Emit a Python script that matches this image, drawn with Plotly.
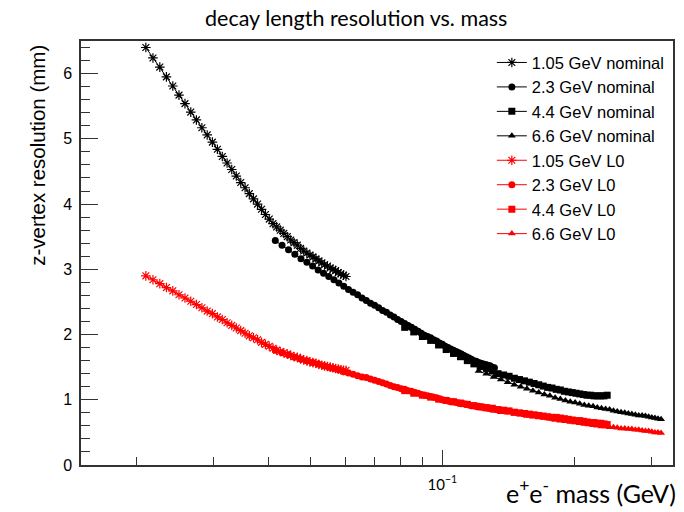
import plotly.graph_objects as go

# ---------------- data ----------------
x_105 = [0.0210, 0.0218, 0.0226, 0.0234, 0.0242, 0.0250, 0.0258, 0.0266, 0.0274, 0.0282,
         0.0290, 0.0298, 0.0306, 0.0314, 0.0322, 0.0330, 0.0338, 0.0346, 0.0354, 0.0362,
         0.0370, 0.0378, 0.0386, 0.0394, 0.0402, 0.0410, 0.0418, 0.0426, 0.0434, 0.0442,
         0.0450, 0.0458, 0.0466, 0.0474, 0.0482, 0.0490, 0.0498, 0.0506, 0.0514, 0.0522,
         0.0530, 0.0538, 0.0546, 0.0554, 0.0562, 0.0570, 0.0578, 0.0586, 0.0594, 0.0602]
y_105_nom = [6.40, 6.24, 6.10, 5.95, 5.81, 5.67, 5.54, 5.41, 5.29, 5.17,
             5.06, 4.95, 4.84, 4.73, 4.63, 4.53, 4.43, 4.33, 4.25, 4.16,
             4.08, 4.00, 3.92, 3.84, 3.77, 3.70, 3.65, 3.60, 3.55, 3.50,
             3.45, 3.41, 3.37, 3.32, 3.28, 3.25, 3.22, 3.19, 3.16, 3.13,
             3.10, 3.07, 3.05, 3.02, 3.00, 2.98, 2.95, 2.93, 2.91, 2.89]
y_105_L0 = [2.90, 2.84, 2.78, 2.72, 2.67, 2.61, 2.56, 2.51, 2.46, 2.41,
            2.36, 2.32, 2.27, 2.23, 2.18, 2.14, 2.10, 2.06, 2.02, 1.98,
            1.95, 1.92, 1.88, 1.85, 1.82, 1.79, 1.76, 1.74, 1.72, 1.70,
            1.68, 1.66, 1.65, 1.63, 1.61, 1.60, 1.58, 1.57, 1.56, 1.54,
            1.53, 1.52, 1.51, 1.50, 1.49, 1.48, 1.47, 1.46, 1.45, 1.45]

x_23 = [0.0415, 0.0430, 0.0445, 0.0460, 0.0475, 0.0490, 0.0505, 0.0520, 0.0535, 0.0550,
        0.0565, 0.0580, 0.0595, 0.0610, 0.0625, 0.0640, 0.0655, 0.0670, 0.0685, 0.0700,
        0.0715, 0.0730, 0.0745, 0.0760, 0.0775, 0.0790, 0.0805, 0.0820, 0.0835, 0.0850,
        0.0865, 0.0880, 0.0895, 0.0910, 0.0925, 0.0940, 0.0955, 0.0970, 0.0985, 0.1000,
        0.1015, 0.1030, 0.1045, 0.1060, 0.1075, 0.1090, 0.1105, 0.1120, 0.1135, 0.1150,
        0.1165, 0.1180, 0.1195, 0.1210, 0.1225, 0.1240, 0.1255, 0.1270, 0.1285, 0.1300,
        0.1315]
y_23_nom = [3.44, 3.37, 3.30, 3.23, 3.16, 3.11, 3.05, 2.99, 2.94, 2.89,
            2.84, 2.79, 2.74, 2.69, 2.65, 2.61, 2.56, 2.52, 2.48, 2.45,
            2.41, 2.37, 2.34, 2.30, 2.27, 2.23, 2.20, 2.17, 2.14, 2.11,
            2.08, 2.05, 2.02, 1.99, 1.97, 1.95, 1.92, 1.90, 1.87, 1.85,
            1.82, 1.80, 1.78, 1.76, 1.74, 1.72, 1.70, 1.68, 1.66, 1.64,
            1.62, 1.60, 1.59, 1.57, 1.56, 1.55, 1.54, 1.53, 1.52, 1.50,
            1.49]
y_23_L0 = [1.76, 1.72, 1.69, 1.65, 1.62, 1.60, 1.57, 1.55, 1.52, 1.50,
           1.48, 1.46, 1.43, 1.41, 1.39, 1.37, 1.35, 1.34, 1.32, 1.30,
           1.28, 1.26, 1.24, 1.22, 1.20, 1.19, 1.17, 1.16, 1.14, 1.13,
           1.11, 1.10, 1.08, 1.07, 1.06, 1.05, 1.04, 1.03, 1.01, 1.00,
           0.99, 0.98, 0.97, 0.97, 0.96, 0.95, 0.94, 0.94, 0.93, 0.92,
           0.91, 0.91, 0.90, 0.90, 0.89, 0.89, 0.88, 0.87, 0.87, 0.86,
           0.86]

x_44 = [0.082, 0.086, 0.090, 0.094, 0.098, 0.102, 0.106, 0.110, 0.114, 0.118,
        0.122, 0.126, 0.130, 0.134, 0.138, 0.142, 0.146, 0.150, 0.154, 0.158,
        0.162, 0.166, 0.170, 0.174, 0.178, 0.182, 0.186, 0.190, 0.194, 0.198,
        0.202, 0.206, 0.210, 0.214, 0.218, 0.222, 0.226, 0.230, 0.234, 0.238]
y_44_nom = [2.11, 2.04, 1.97, 1.91, 1.84, 1.77, 1.71, 1.66, 1.60, 1.55,
            1.51, 1.48, 1.44, 1.40, 1.38, 1.36, 1.33, 1.31, 1.29, 1.27,
            1.25, 1.23, 1.21, 1.19, 1.18, 1.16, 1.15, 1.13, 1.12, 1.11,
            1.10, 1.09, 1.08, 1.07, 1.07, 1.06, 1.06, 1.06, 1.06, 1.07]
y_44_L0 = [1.14, 1.10, 1.07, 1.04, 1.01, 0.99, 0.97, 0.95, 0.93, 0.91,
           0.89, 0.88, 0.87, 0.85, 0.84, 0.83, 0.81, 0.80, 0.79, 0.78,
           0.77, 0.76, 0.75, 0.74, 0.73, 0.73, 0.72, 0.71, 0.70, 0.69,
           0.68, 0.68, 0.67, 0.66, 0.65, 0.65, 0.64, 0.64, 0.63, 0.62]

x_66 = [0.121, 0.126, 0.131, 0.136, 0.141, 0.146, 0.151, 0.156, 0.161, 0.166,
        0.171, 0.176, 0.181, 0.186, 0.191, 0.196, 0.201, 0.206, 0.211, 0.216,
        0.221, 0.226, 0.231, 0.236, 0.241, 0.246, 0.251, 0.256, 0.261, 0.266,
        0.271, 0.276, 0.281, 0.286, 0.291, 0.296, 0.301, 0.306, 0.311, 0.316]
y_66_nom = [1.44, 1.40, 1.35, 1.31, 1.27, 1.23, 1.20, 1.17, 1.14, 1.11,
            1.08, 1.06, 1.03, 1.01, 0.99, 0.97, 0.96, 0.94, 0.92, 0.91,
            0.90, 0.88, 0.87, 0.86, 0.85, 0.83, 0.82, 0.81, 0.80, 0.79,
            0.78, 0.77, 0.76, 0.76, 0.75, 0.74, 0.73, 0.72, 0.71, 0.70]
y_66_L0 = [0.87, 0.85, 0.83, 0.81, 0.80, 0.78, 0.77, 0.75, 0.74, 0.73,
           0.72, 0.71, 0.69, 0.68, 0.67, 0.66, 0.65, 0.64, 0.63, 0.62,
           0.61, 0.60, 0.59, 0.59, 0.58, 0.58, 0.57, 0.56, 0.56, 0.55,
           0.55, 0.54, 0.54, 0.53, 0.52, 0.52, 0.51, 0.50, 0.50, 0.49]

series_names = ["1.05 GeV nominal", "2.3 GeV nominal", "4.4 GeV nominal", "6.6 GeV nominal",
                "1.05 GeV L0", "2.3 GeV L0", "4.4 GeV L0", "6.6 GeV L0"]

x_minor_ticks = [0.02, 0.03, 0.04, 0.05, 0.06, 0.07, 0.08, 0.09, 0.2, 0.3]
x_major_ticks = [0.1]
x_major_text = ["10<sup>−1</sup>"]

# ---------------- figure ----------------
series = [
    (x_105, y_105_nom, "asterisk-open", "#000000", 8),
    (x_23, y_23_nom, "circle", "#000000", 7),
    (x_44, y_44_nom, "square", "#000000", 7),
    (x_66, y_66_nom, "triangle-up", "#000000", 7),
    (x_105, y_105_L0, "asterisk-open", "#ff0000", 8),
    (x_23, y_23_L0, "circle", "#ff0000", 7),
    (x_44, y_44_L0, "square", "#ff0000", 7),
    (x_66, y_66_L0, "triangle-up", "#ff0000", 7),
]

fig = go.Figure()
for name, (xs, ys, sym, col, sz) in zip(series_names, series):
    fig.add_trace(go.Scatter(
        x=xs, y=ys, name=name, mode="lines+markers",
        line=dict(color=col, width=1),
        marker=dict(symbol=sym, size=sz, color=col,
                    line=dict(color=col, width=1.2 if "asterisk" in sym else 0)),
    ))

axis_col = "#333333"
fig.update_layout(
    width=684, height=512,
    margin=dict(l=81, r=9, t=41, b=47),
    paper_bgcolor="white", plot_bgcolor="white",
    showlegend=True,
    legend=dict(x=0.694, y=0.99, xanchor="left", yanchor="top",
                bgcolor="rgba(255,255,255,0)", borderwidth=0,
                font=dict(family="Liberation Sans, Arial, sans-serif", size=16.5, color="#000"),
                tracegroupgap=0),
    xaxis=dict(type="log", range=[-1.826, -0.473],
               showgrid=False, zeroline=False,
               showline=True, mirror=True, linecolor=axis_col, linewidth=1.5,
               ticks="inside", ticklen=15, tickwidth=1, tickcolor=axis_col,
               tickmode="array", tickvals=x_major_ticks, ticktext=x_major_text,
               ticklabelstandoff=5,
               tickfont=dict(family="Lato, sans-serif", size=15, color="#000"),
               minor=dict(ticks="inside", ticklen=8, tickwidth=1, tickcolor=axis_col,
                          tickmode="array", tickvals=x_minor_ticks, showgrid=False)),
    yaxis=dict(range=[0, 6.5],
               showgrid=False, zeroline=False,
               showline=True, mirror=True, linecolor=axis_col, linewidth=1.5,
               ticks="inside", ticklen=17, tickwidth=1, tickcolor=axis_col,
               dtick=1, tick0=0, ticklabelstandoff=4,
               tickfont=dict(family="Liberation Sans, Arial, sans-serif", size=16, color="#000"),
               minor=dict(ticks="inside", ticklen=9, tickwidth=1, tickcolor=axis_col,
                          dtick=0.2, showgrid=False)),
    annotations=[
        dict(text="decay length resolution vs. mass", xref="paper", yref="paper",
             x=0.4646, y=1.054, xanchor="center", yanchor="middle", showarrow=False,
             font=dict(family="Lato, sans-serif", size=21.5, color="#000")),
        dict(text="e<sup>+</sup>e<sup>-</sup> mass (GeV)", xref="paper", yref="paper",
             x=1.0084, y=-0.062, xanchor="right", yanchor="middle", showarrow=False,
             font=dict(family="Lato, sans-serif", size=25, color="#000")),
        dict(text="z-vertex resolution (mm)", xref="paper", yref="paper",
             x=-0.0741, y=0.995, xanchor="center", yanchor="top", showarrow=False,
             textangle=-90,
             font=dict(family="Liberation Sans, Arial, sans-serif", size=20.5, color="#000")),
    ],
)

fig.write_html("out.html")
